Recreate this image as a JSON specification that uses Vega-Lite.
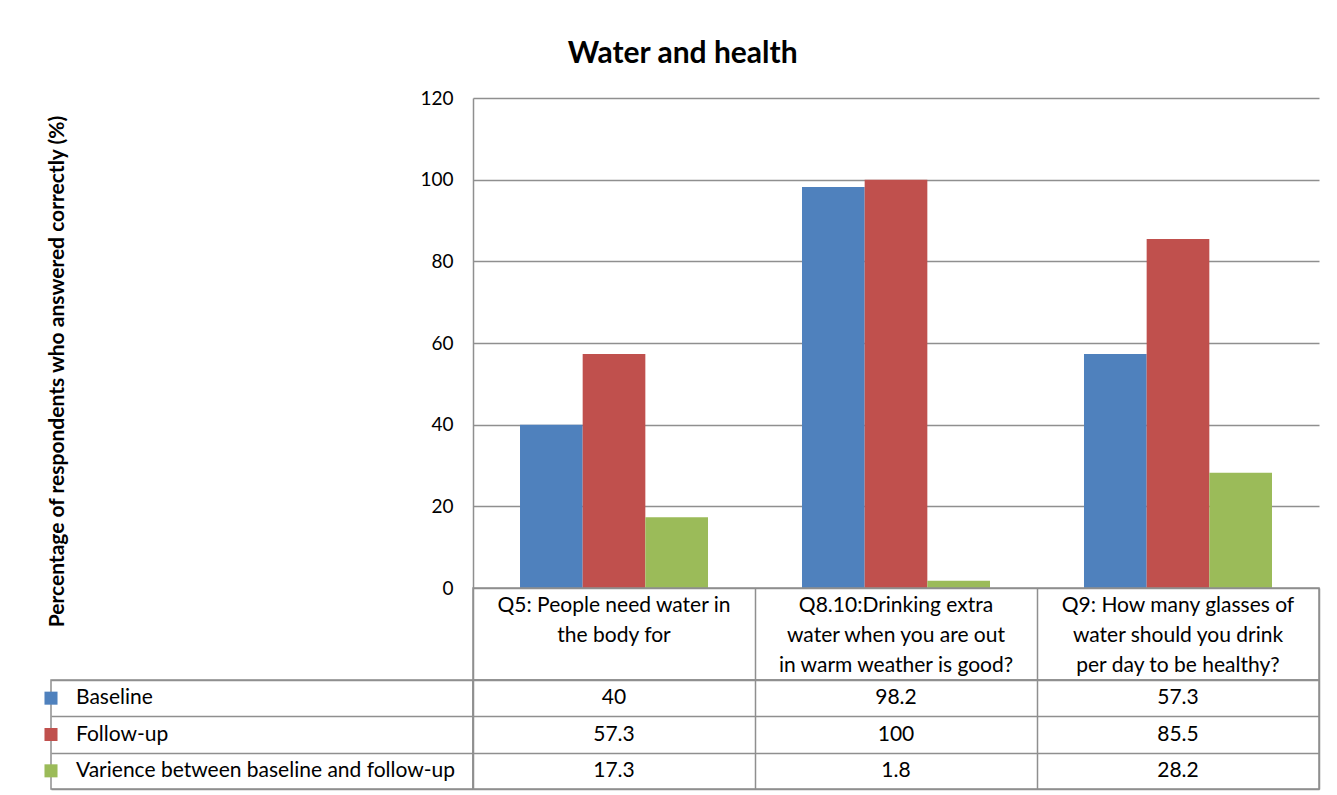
{
  "$schema": "https://vega.github.io/schema/vega-lite/v6.json",
  "background": "white",
  "padding": {"left": 43, "top": 39, "right": 10, "bottom": 4},
  "title": {"text": "Water and health", "font": "Lato", "fontSize": 30, "fontWeight": "bold", "color": "#000000", "anchor": "middle", "dx": 1, "offset": 20},
  "columns": 2,
  "spacing": 0,
  "bounds": "flush",
  "align": "each",
  "config": {
    "view": {"stroke": null},
    "font": "Lato",
    "axis": {"gridColor": "#8f8f8f", "gridWidth": 1.5, "domainColor": "#8f8f8f", "domainWidth": 1.5}
  },
  "datasets": {
    "bars": [
      {"question": "Q5", "series": "Baseline", "value": 40},
      {"question": "Q5", "series": "Follow-up", "value": 57.3},
      {"question": "Q5", "series": "Varience between baseline and follow-up", "value": 17.3},
      {"question": "Q8.10", "series": "Baseline", "value": 98.2},
      {"question": "Q8.10", "series": "Follow-up", "value": 100},
      {"question": "Q8.10", "series": "Varience between baseline and follow-up", "value": 1.8},
      {"question": "Q9", "series": "Baseline", "value": 57.3},
      {"question": "Q9", "series": "Follow-up", "value": 85.5},
      {"question": "Q9", "series": "Varience between baseline and follow-up", "value": 28.2}
    ],
    "questions": [
      {"question": "Q5", "part": "header", "label": "Q5: People need water in\nthe body for"},
      {"question": "Q8.10", "part": "header", "label": "Q8.10:Drinking extra\nwater when you are out\nin warm weather is good?"},
      {"question": "Q9", "part": "header", "label": "Q9: How many glasses of\nwater should you drink\nper day to be healthy?"}
    ],
    "series": [
      {"series": "Baseline", "col": "label"},
      {"series": "Follow-up", "col": "label"},
      {"series": "Varience between baseline and follow-up", "col": "label"}
    ]
  },
  "concat": [
    {
      "width": 422,
      "height": 490,
      "data": {"values": [{}]},
      "mark": {"type": "text"},
      "encoding": {"text": {"value": ""}}
    },
    {
      "width": 846,
      "height": 490,
      "data": {"name": "bars"},
      "mark": {"type": "bar"},
      "encoding": {
        "x": {"field": "question", "type": "nominal", "sort": ["Q5", "Q8.10", "Q9"], "scale": {"paddingInner": 0.3333, "paddingOuter": 0.1667}, "axis": null},
        "xOffset": {"field": "series", "type": "nominal", "sort": ["Baseline", "Follow-up", "Varience between baseline and follow-up"], "scale": {"paddingInner": 0, "paddingOuter": 0}},
        "y": {
          "field": "value", "type": "quantitative",
          "scale": {"domain": [0, 120], "nice": false},
          "axis": {
            "values": [0, 20, 40, 60, 80, 100, 120],
            "grid": true, "ticks": false, "labelPadding": 20,
            "labelFontSize": 19, "labelColor": "#000000", "labelFont": "Lato",
            "title": "Percentage of respondents who answered correctly (%)",
            "titleFont": "Lato", "titleFontSize": 21, "titleFontWeight": "bold", "titleColor": "#000000",
            "titleX": -416, "titleY": 273, "titleAngle": -90, "titleAlign": "center", "titleBaseline": "middle"
          }
        },
        "color": {
          "field": "series", "type": "nominal",
          "scale": {"domain": ["Baseline", "Follow-up", "Varience between baseline and follow-up"], "range": ["#4F81BD", "#C0504D", "#9BBB59"]},
          "legend": null
        }
      }
    },
    {
      "width": 422,
      "height": 92,
      "data": {"values": [{}]},
      "mark": {"type": "text"},
      "encoding": {"text": {"value": ""}}
    },
    {
      "width": 846,
      "height": 92,
      "view": {"stroke": "#8f8f8f", "strokeWidth": 1.5},
      "data": {"name": "questions"},
      "mark": {"type": "text", "lineBreak": "\n", "baseline": "top", "align": "center", "dy": 7, "lineHeight": 30, "fontSize": 21, "font": "Lato", "color": "#000000"},
      "encoding": {
        "x": {"field": "question", "type": "nominal", "sort": ["Q5", "Q8.10", "Q9"], "scale": {"type": "band", "paddingInner": 0, "paddingOuter": 0},
              "axis": {"grid": true, "tickBand": "extent", "labels": false, "ticks": false, "domain": false, "title": null}},
        "y": {"field": "part", "type": "nominal", "bandPosition": 0, "scale": {"type": "band", "paddingInner": 0, "paddingOuter": 0}, "axis": null},
        "text": {"field": "label"}
      }
    },
    {
      "width": 422,
      "height": 109,
      "view": {"stroke": "#8f8f8f", "strokeWidth": 1.5},
      "data": {"name": "series"},
      "layer": [
        {
          "mark": {"type": "point", "shape": "square", "filled": true, "opacity": 1, "size": 170, "dx": 13},
          "encoding": {
            "x": {"field": "col", "type": "nominal", "bandPosition": 0, "scale": {"type": "band", "paddingInner": 0, "paddingOuter": 0}, "axis": null},
            "y": {"field": "series", "type": "nominal", "sort": ["Baseline", "Follow-up", "Varience between baseline and follow-up"], "scale": {"type": "band", "paddingInner": 0, "paddingOuter": 0},
                  "axis": {"grid": true, "tickBand": "extent", "labels": false, "ticks": false, "domain": false, "title": null}},
            "color": {"field": "series", "type": "nominal", "legend": null}
          }
        },
        {
          "mark": {"type": "text", "align": "left", "baseline": "middle", "dx": 25, "fontSize": 21, "font": "Lato", "color": "#000000"},
          "encoding": {
            "x": {"field": "col", "type": "nominal", "bandPosition": 0, "scale": {"type": "band", "paddingInner": 0, "paddingOuter": 0}, "axis": null},
            "y": {"field": "series", "type": "nominal", "sort": ["Baseline", "Follow-up", "Varience between baseline and follow-up"], "scale": {"type": "band", "paddingInner": 0, "paddingOuter": 0}},
            "text": {"field": "series"}
          }
        }
      ]
    },
    {
      "width": 846,
      "height": 109,
      "view": {"stroke": "#8f8f8f", "strokeWidth": 1.5},
      "data": {"name": "bars"},
      "mark": {"type": "text", "align": "center", "baseline": "middle", "fontSize": 21, "font": "Lato", "color": "#000000"},
      "encoding": {
        "x": {"field": "question", "type": "nominal", "sort": ["Q5", "Q8.10", "Q9"], "scale": {"type": "band", "paddingInner": 0, "paddingOuter": 0},
              "axis": {"grid": true, "tickBand": "extent", "labels": false, "ticks": false, "domain": false, "title": null}},
        "y": {"field": "series", "type": "nominal", "sort": ["Baseline", "Follow-up", "Varience between baseline and follow-up"], "scale": {"type": "band", "paddingInner": 0, "paddingOuter": 0},
              "axis": {"grid": true, "tickBand": "extent", "labels": false, "ticks": false, "domain": false, "title": null}},
        "text": {"field": "value", "type": "quantitative"}
      }
    }
  ]
}
